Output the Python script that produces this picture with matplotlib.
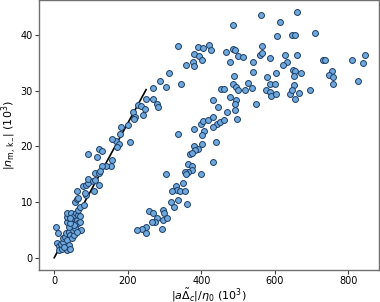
import numpy as np
import matplotlib
matplotlib.use("Agg")
import matplotlib.pyplot as plt

# left branch (follows the linear fit)
left_x = [5.4, 9, 7, 13, 14, 21, 18, 25, 24, 30, 33, 39, 42, 34, 39, 34, 43, 27, 48, 53,
          51, 57, 39, 34, 36, 36, 45, 53, 48, 57, 62, 66, 71, 60, 66, 71, 72, 62, 53, 43,
          42, 66, 69, 57, 62, 66, 80, 87, 84, 63, 78, 87, 93, 91, 105, 111, 121, 107, 111, 123,
          270, 304, 249, 268, 279, 281, 227, 236, 247, 241, 214, 220, 216, 200, 181, 178, 205, 169, 157, 175,
          170, 121, 130, 93, 116, 157, 154, 141, 130, 125,
          338, 390, 406, 421, 427, 381, 394, 377, 381, 401, 359, 311, 288, 345]
left_y = [5.6, 4.5, 2.7, 2.1, 1.4, 1.5, 2.5, 2.9, 3.5, 3.8, 4.4, 4.7, 4.1, 3.2, 2.3, 1.4, 1.5, 2.0, 3.5, 4.1,
          5.0, 5.3, 5.5, 6.5, 7.4, 8.1, 8.0, 7.5, 6.8, 6.2, 6.8, 6.2, 6.5, 8.0, 7.7, 7.5, 5.0, 4.7, 5.9, 6.2,
          7.1, 8.6, 9.2, 10.1, 10.5, 10.8, 9.5, 11.3, 11.7, 11.9, 12.8, 13.1, 13.4, 14.1, 13.7, 14.0, 13.1, 11.9, 15.2, 15.3,
          30.5, 30.7, 28.6, 28.5, 27.7, 27.1, 27.4, 27.3, 26.7, 25.7, 26.2, 25.3, 24.9, 23.8, 23.4, 22.2, 20.8, 21.0, 21.3, 20.4,
          19.9, 19.6, 19.2, 18.6, 18.1, 17.5, 16.4, 16.5, 16.4, 15.6,
          38.0, 37.8, 37.6, 38.2, 37.3, 36.6, 36.3, 35.2, 34.4, 35.5, 34.7, 33.2, 31.8, 31.3]

# right branch
right_x = [467, 454, 462, 433, 445, 469, 478, 478, 338, 379, 399, 406, 417, 431, 444, 451, 462, 433, 408, 401,
           401, 440, 381, 392, 383, 370, 374, 431, 365, 374, 374, 365, 356, 359, 400, 304, 351, 331, 333, 341,
           356, 320, 317, 338, 362, 326, 297, 299, 258, 268, 295, 306, 279, 273, 266, 293, 250, 240, 225, 249,
           486, 563, 615, 661, 607, 646, 654, 709, 564, 559, 566, 485, 492, 499, 513, 540, 628, 634, 621, 659,
           587, 542, 649, 655, 604, 672, 490, 578, 651, 526, 485, 494, 501, 519, 539, 587, 601, 575, 587, 589,
           602, 640, 651, 647, 665, 656, 695, 495, 493, 492, 498, 548, 730, 736, 811, 844, 839, 755, 748, 759,
           759, 825]
right_y = [37.0, 30.3, 30.3, 28.3, 27.1, 26.2, 28.9, 35.2, 22.2, 23.2, 24.1, 24.6, 24.7, 25.2, 24.0, 24.3, 24.7, 23.5, 22.8, 22.0,
           20.5, 20.8, 20.1, 19.5, 19.3, 18.7, 18.9, 17.2, 16.9, 16.5, 15.7, 15.4, 15.4, 15.0, 15.0, 15.0, 13.4, 12.9, 12.2, 11.9,
           11.9, 11.9, 10.1, 10.4, 9.6, 9.2, 8.6, 8.1, 8.4, 8.1, 6.8, 7.2, 7.1, 6.5, 6.5, 5.1, 5.6, 5.1, 4.9, 4.4,
           41.8, 43.6, 42.4, 44.2, 39.9, 40.1, 40.1, 40.3, 38.0, 36.4, 36.8, 37.5, 37.3, 36.2, 36.0, 35.2, 36.4, 35.2, 34.7, 36.4,
           35.8, 33.3, 33.7, 33.6, 33.2, 33.1, 32.7, 32.4, 32.6, 31.4, 31.2, 30.6, 30.1, 30.1, 30.5, 31.2, 31.2, 30.1, 29.8, 29.1,
           29.4, 29.4, 31.0, 30.2, 29.6, 28.5, 30.1, 28.4, 27.7, 26.5, 24.9, 27.6, 35.5, 35.5, 35.6, 36.5, 34.9, 33.5, 32.9, 32.5,
           31.2, 31.8]

# linear fit
fit_x = [0, 250]
fit_y = [0, 30.2]

x_ticks = [0, 200, 400, 600, 800]
y_ticks = [0, 10, 20, 30, 40]

fig = plt.figure(figsize=(3.8, 3.02), dpi=100)
ax = fig.add_axes([0.103, 0.106, 0.894, 0.894])

style = dict(s=18, c="#6fa8dc", edgecolors="#1c3d66", linewidths=0.7, zorder=3)
ax.scatter(left_x, left_y, **style)
ax.scatter(right_x, right_y, **style)
ax.plot(fit_x, fit_y, color="black", lw=1.2, zorder=2)

ax.set_xlim(-41, 883)
ax.set_ylim(-2.2, 46.3)
ax.set_xticks(x_ticks)
ax.set_yticks(y_ticks)

for sp in ax.spines.values():
    sp.set_color("#707070")
    sp.set_linewidth(1.0)
ax.tick_params(direction="out", length=3, width=0.8, color="#404040", labelsize=7, pad=1.5)

ax.set_xlabel(r"$|a\tilde{\Delta}_c|/\eta_0$ ($10^3$)", fontsize=8, labelpad=0)
ax.set_ylabel(r"$|n_{\mathrm{m,\,k_{-}}}|$ ($10^3$)", fontsize=8, labelpad=1)

fig.savefig("out.png", dpi=100)
